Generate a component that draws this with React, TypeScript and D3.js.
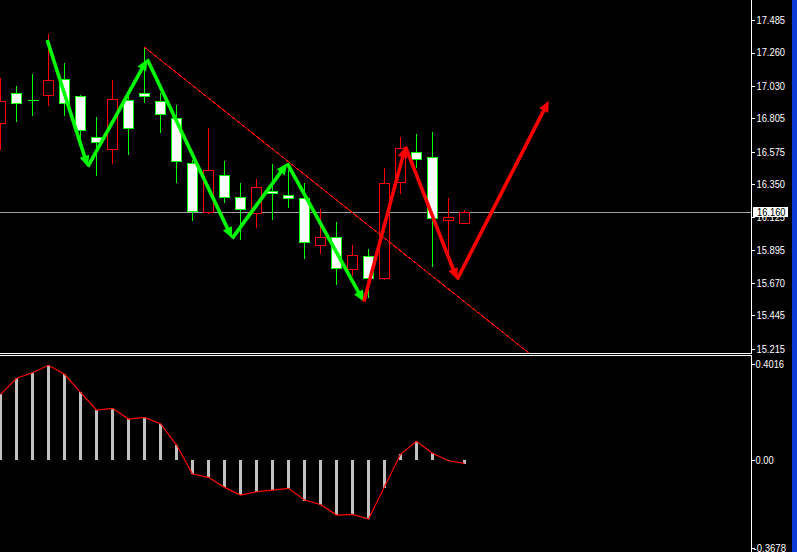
import React from "react";
import * as d3 from "d3";

const candleOpen = [16.772,16.979,16.933,16.965,17.075,16.958,16.679,16.592,16.930,16.979,16.926,16.806,16.495,16.157,16.415,16.261,16.150,16.304,16.274,16.254,15.929,15.988,15.763,15.853,15.701,16.364,16.571,16.537,16.102,16.081];
const candleHigh = [17.082,17.029,17.112,17.388,17.188,16.965,16.813,17.071,16.967,17.297,16.979,16.898,16.518,16.739,16.511,16.361,16.387,16.491,16.449,16.361,16.180,16.088,15.931,15.901,16.461,16.675,16.698,16.709,16.254,16.173];
const candleLow = [16.594,16.790,16.829,16.900,16.829,16.656,16.415,16.495,16.560,16.921,16.714,16.368,16.104,16.150,16.230,15.971,16.058,16.111,16.196,15.839,15.878,15.662,15.724,15.574,15.694,16.288,16.472,15.788,15.885,16.081];
const candleClose = [16.926,16.910,16.933,17.069,16.910,16.723,16.640,16.937,16.737,16.960,16.834,16.511,16.168,16.449,16.261,16.178,16.330,16.288,16.254,15.950,15.988,15.770,15.860,15.701,16.357,16.599,16.525,16.116,16.122,16.160];

const priceTicks = [17.485,17.26,17.03,16.805,16.575,16.35,16.125,15.895,15.67,15.445,15.215];
const currentPrice = 16.16;

const histValues = [0.2748,0.3418,0.3652,0.3961,0.3585,0.2832,0.2092,0.2163,0.1715,0.1786,0.1518,0.0627,-0.0586,-0.0724,-0.1142,-0.1464,-0.1326,-0.1255,-0.1213,-0.1715,-0.1882,-0.2301,-0.2271,-0.2481,-0.1159,0.0238,0.0782,0.0280,-0.0040,-0.0180];
const signalValues = [0.2748,0.3418,0.3652,0.3961,0.3585,0.2832,0.2092,0.2163,0.1715,0.1786,0.1518,0.0627,-0.0586,-0.0724,-0.1142,-0.1464,-0.1326,-0.1255,-0.1185,-0.1670,-0.1860,-0.2301,-0.2271,-0.2468,-0.1117,0.0238,0.0782,0.0280,-0.0029,-0.0139];
const indTicks = [0.4016, 0.0, -0.3678];
const indTickLabels = ["0.4016", "0.00", "-0.3678"];

const greenZigIdx = [2.92, 5.46, 9.17, 14.48, 17.92, 22.71];
const greenZigPrice = [17.347, 16.472, 17.214, 15.977, 16.495, 15.540];
const redZigIdx = [22.71, 25.31, 28.54, 34.27];
const redZigPrice = [15.540, 16.610, 15.694, 16.928];

const trendIdx = [9, 20];
const trendPrice = [17.297, 16.330];

const W = 797, H = 552;
const AXIS_X = 751.5;
const UPPER_BOTTOM = 353;
const LOWER_TOP = 356;

const x = d3.scaleLinear().domain([0, 1]).range([0.5, 16.5]);
const y = d3.scaleLinear().domain([15.215, 17.485]).range([348.7, 20]);
const yi = d3.scaleLinear().domain([-0.3678, 0.4016]).range([548, 364]);

function arrowSegments(idx: number[], price: number[], color: string, keyPrefix: string) {
  const els: React.ReactNode[] = [];
  const L = 11, HW = 5;
  for (let k = 0; k < idx.length - 1; k++) {
    const x0 = x(idx[k]), y0 = y(price[k]);
    const x1 = x(idx[k + 1]), y1 = y(price[k + 1]);
    const dx = x1 - x0, dy = y1 - y0;
    const len = Math.hypot(dx, dy);
    const ux = dx / len, uy = dy / len;
    const bx = x1 - ux * L, by = y1 - uy * L;
    const px = -uy, py = ux;
    els.push(
      <line key={keyPrefix + "l" + k} x1={x0} y1={y0} x2={bx + ux * 2} y2={by + uy * 2}
        stroke={color} strokeWidth={3.6} />
    );
    els.push(
      <polygon key={keyPrefix + "h" + k}
        points={`${x1},${y1} ${bx + px * HW},${by + py * HW} ${bx - px * HW},${by - py * HW}`}
        fill={color} />
    );
  }
  return els;
}

export default function App() {
  const font = "'Liberation Sans', Arial, sans-serif";

  const tx0 = x(trendIdx[0]), ty0 = y(trendPrice[0]);
  const tx1 = x(trendIdx[1]), ty1 = y(trendPrice[1]);
  const slope = (ty1 - ty0) / (tx1 - tx0);
  const txEnd = 800;
  const tyEnd = ty0 + slope * (txEnd - tx0);

  const zeroY = yi(0);
  const signalLine = d3.line<number>().x((_, i) => x(i)).y((d) => yi(d))(signalValues) || "";

  const labelLen = (s: string) => {
    let w = 0;
    for (const ch of s) w += ch === "." ? 2.5 : ch === "-" ? 4 : 5.2;
    return w;
  };

  return (
    <svg width={W} height={H} style={{ position: "fixed", left: 0, top: 0, background: "#000" }}>
      <defs>
        <clipPath id="upper"><rect x={0} y={0} width={AXIS_X} height={UPPER_BOTTOM} /></clipPath>
        <clipPath id="lower"><rect x={0} y={LOWER_TOP} width={AXIS_X} height={H - LOWER_TOP} /></clipPath>
      </defs>
      <rect x={0} y={0} width={W} height={H} fill="#000" />

      <g clipPath="url(#upper)">
        <line x1={0} x2={AXIS_X} y1={Math.round(y(currentPrice)) + 0.5} y2={Math.round(y(currentPrice)) + 0.5}
          stroke="#9aa0a6" strokeWidth={1} shapeRendering="crispEdges" />
        {candleOpen.map((o, i) => {
          const c = candleClose[i];
          const bull = c > o;
          const col = bull ? "#ff0000" : "#00ff00";
          const cx = Math.round(x(i) - 0.5) + 0.5;
          const yTop = Math.round(y(Math.max(o, c))) + 0.5;
          const yBot = Math.round(y(Math.min(o, c))) + 0.5;
          return (
            <g key={"c" + i} shapeRendering="crispEdges">
              <line x1={cx} x2={cx} y1={Math.round(y(candleHigh[i]))} y2={Math.round(y(candleLow[i])) + 1} stroke={col} strokeWidth={1} />
              {yBot - yTop < 1 ? (
                <line x1={cx - 5} x2={cx + 6} y1={yTop} y2={yTop} stroke={col} strokeWidth={1} />
              ) : (
                <rect x={cx - 5} y={yTop} width={10} height={yBot - yTop} fill={bull ? "#000" : "#fff"} stroke={col} strokeWidth={1} />
              )}
            </g>
          );
        })}
        <line x1={tx0} y1={ty0} x2={txEnd} y2={tyEnd} stroke="#ff0000" strokeWidth={1} shapeRendering="crispEdges" />
        {arrowSegments(greenZigIdx, greenZigPrice, "#00ff00", "g")}
        {arrowSegments(redZigIdx, redZigPrice, "#ff0000", "r")}
      </g>

      <g clipPath="url(#lower)">
        {histValues.map((v, i) => {
          const cx = Math.round(x(i) - 0.5);
          const y0 = Math.round(zeroY);
          const yv = Math.round(yi(v));
          return (
            <rect key={"h" + i} x={cx - 1} y={Math.min(y0, yv)} width={3} height={Math.max(1, Math.abs(yv - y0))}
              fill="#c0c0c0" shapeRendering="crispEdges" />
          );
        })}
        <path d={signalLine} fill="none" stroke="#ff0000" strokeWidth={1.2} />
      </g>

      <line x1={0} x2={AXIS_X} y1={353.5} y2={353.5} stroke="#fff" strokeWidth={1} shapeRendering="crispEdges" />
      <line x1={0} x2={AXIS_X} y1={355.5} y2={355.5} stroke="#fff" strokeWidth={1} shapeRendering="crispEdges" />

      <line x1={AXIS_X} x2={AXIS_X} y1={0} y2={UPPER_BOTTOM + 1} stroke="#fff" strokeWidth={1} shapeRendering="crispEdges" />
      <line x1={AXIS_X} x2={AXIS_X} y1={LOWER_TOP - 1} y2={H} stroke="#fff" strokeWidth={1} shapeRendering="crispEdges" />

      {priceTicks.map((p) => {
        const ty = y(p);
        const s = p.toFixed(3);
        return (
          <g key={"pt" + p}>
            <line x1={AXIS_X} x2={AXIS_X + 3} y1={Math.round(ty) + 0.5} y2={Math.round(ty) + 0.5} stroke="#fff" shapeRendering="crispEdges" />
            <text x={756.5} y={ty + 3.8} fill="#fff" fontFamily={font} fontSize={10.5}
              textLength={labelLen(s)} lengthAdjust="spacingAndGlyphs">{s}</text>
          </g>
        );
      })}

      <rect x={753} y={Math.round(y(currentPrice)) - 5} width={35} height={10} fill="#fff" />
      <text x={757} y={y(currentPrice) + 3.8} fill="#000" fontFamily={font} fontSize={10.5}
        textLength={labelLen(currentPrice.toFixed(3))} lengthAdjust="spacingAndGlyphs">{currentPrice.toFixed(3)}</text>

      {indTicks.map((v, i) => {
        const ty = yi(v);
        const neg = v < 0;
        const s = indTickLabels[i];
        return (
          <g key={"it" + i}>
            <line x1={AXIS_X} x2={AXIS_X + 3} y1={Math.round(ty) + 0.5} y2={Math.round(ty) + 0.5} stroke="#fff" shapeRendering="crispEdges" />
            <text x={neg ? 753.5 : 755.5} y={ty + 3.8} fill="#fff" fontFamily={font} fontSize={10.5}
              textLength={labelLen(s)} lengthAdjust="spacingAndGlyphs">{s}</text>
          </g>
        );
      })}

      <rect x={792} y={0} width={5} height={H} fill="#0b3ad6" />
    </svg>
  );
}
